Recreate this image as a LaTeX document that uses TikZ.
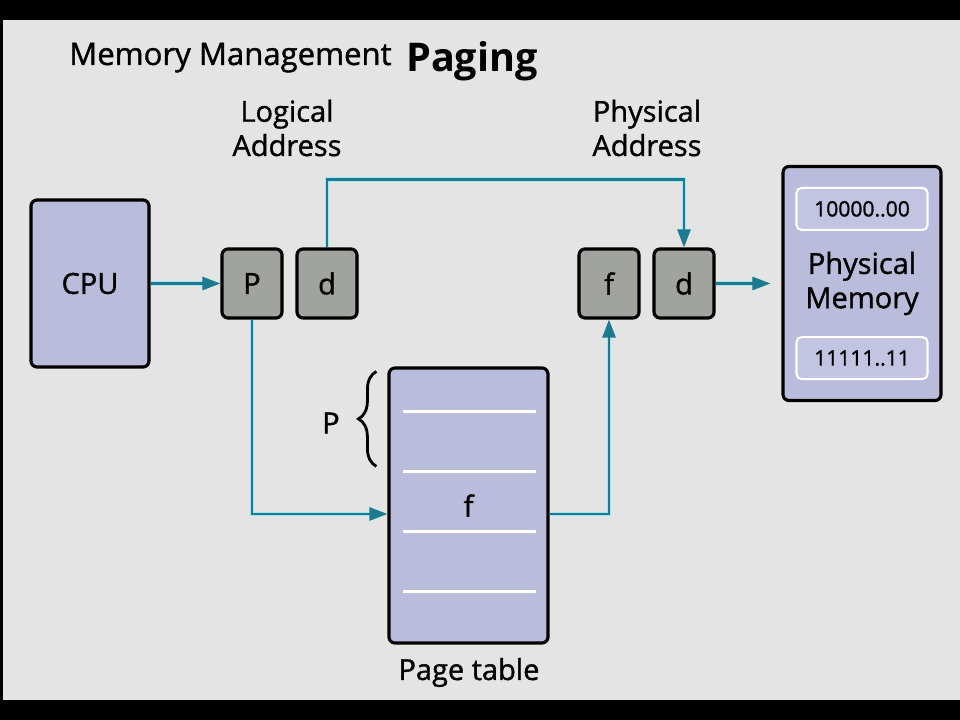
\documentclass[tikz,border=0pt]{standalone}
\usepackage{fontspec}
\setmainfont{Open Sans}
\newfontfamily\semifont{Open Sans}[FakeBold=1.2]
\usepackage{tikz}
\usetikzlibrary{arrows.meta,positioning,calc,decorations.pathreplacing}
\definecolor{panelgray}{RGB}{228,228,228}
\definecolor{lavender}{RGB}{186,188,220}
\definecolor{regfill}{RGB}{161,163,159}
\definecolor{slotfill}{RGB}{194,196,226}
\definecolor{linkteal}{RGB}{30,122,142}
\definecolor{glow}{RGB}{165,230,240}
\tikzset{
unit/.style = {draw, line width=1.8pt, rounded corners=1.2mm, fill=lavender, align=center, font=\semifont\fontsize{16.5}{19.5}\selectfont},
reg/.style  = {draw, line width=1.8pt, rounded corners=1.2mm, fill=regfill, minimum width=1.2cm, minimum height=1.38cm, font=\semifont\fontsize{16.5}{19.5}\selectfont},
slot/.style = {draw=white, line width=1.2pt, rounded corners=1mm, fill=slotfill, minimum width=2.62cm, minimum height=0.84cm, font=\semifont\fontsize{12}{14}\selectfont},
label/.style = {align=center, font=\semifont\fontsize{16.5}{19.5}\selectfont},
link/.style = {draw=linkteal, line width=1.4pt, preaction={draw=glow, line width=2.8pt}},
row/.style  = {draw=white, line width=1.6pt}
}

\begin{document}
\begin{tikzpicture}[x=0.2mm, y=0.2mm, >={Triangle[length=3.6mm, width=2.6mm]}]
  % screen
  \fill [black] (0,0) rectangle (960,720);
  \fill [panelgray] (3,20) rectangle (960,700);

  \node [anchor=base west, font=\semifont\fontsize{17.7}{20}\selectfont] (title)   at (63,655)  {Memory Management};
  \node [anchor=base west, font=\fontsize{22.5}{24}\selectfont\bfseries] (paging)  at (400,648) {Paging};

  \node [unit, minimum width=2.36cm, minimum height=3.34cm]              (cpu)     at (90,436.5) {CPU};
  \node [reg, right of=cpu, node distance=3.24cm]                         (P)       {P};
  \node [reg, right of=P, node distance=1.5cm]                            (d)       {d};
  \node [reg, right of=d, node distance=5.64cm]                           (f)       {f};
  \node [reg, right of=f, node distance=1.5cm]                            (d2)      {d};
  \node [unit, minimum width=3.16cm, minimum height=4.68cm, right of=d2, node distance=3.56cm] (mem) {Physical\\Memory};
  \node [slot] (low)  at ($(mem.north)+(0,-44)$) {10000..00};
  \node [slot] (high) at ($(mem.south)+(0,44)$)  {11111..11};

  \node [label] (logical)  at (287,592) {Logical\\Address};
  \node [label] (physical) at (647,592) {Physical\\Address};

  \node [unit, minimum width=3.18cm, minimum height=5.5cm]               (pt)      at (468.5,214.5) {f};
  \node [label, anchor=base]                                             (ptname)  at (469,40) {Page table};
  \foreach \k in {1,...,4}
    \draw [row] ($(pt.north west)+(16,-45-60*\k+60)$) -- ++(133,0);

  % index brace
  \coordinate (bbot) at ($(pt.north west)+(-11,-100)$);
  \coordinate (btop) at ($(pt.north west)+(-11,-5)$);
  \draw [line width=1.6pt, decorate, decoration={brace, amplitude=3.6mm}] (bbot) -- (btop);
  \node [label] (pidx) at (331,297) {P};

  \draw [link, ->] (cpu) -- (P);
  \draw [link, ->] (d.north) -- ++(0,68) -| (d2.north);
  \draw [link, ->] (P.south) |- ($(pt.west)+(0,-8.5)$);
  \draw [link, ->] ($(pt.east)+(0,-8.5)$) -| (f.south);
  \draw [link, ->, shorten >=2.2mm] (d2.east) -- (d2.east -| mem.west);
\end{tikzpicture}
\end{document}
